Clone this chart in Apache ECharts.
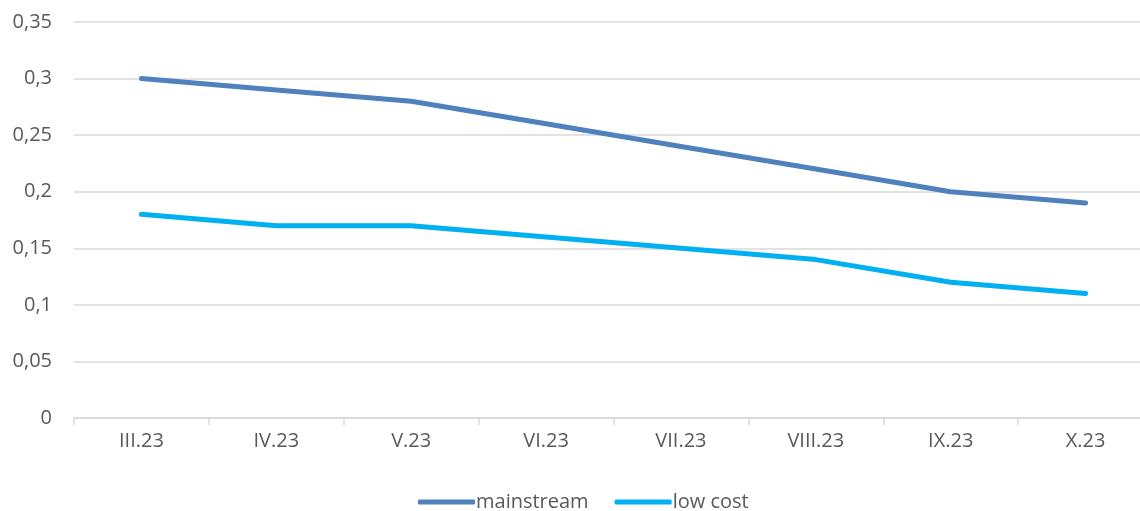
<!DOCTYPE html>
<html><head><meta charset="utf-8">
<script src="https://cdn.jsdelivr.net/npm/echarts@6/dist/echarts.min.js"></script>
<style>html,body{margin:0;padding:0;background:#fff}#c{width:1140px;height:511px}</style>
</head><body><div id="c"></div>
<script>
const categories = ['III.23','IV.23','V.23','VI.23','VII.23','VIII.23','IX.23','X.23'];
const mainstream = [0.30,0.29,0.28,0.26,0.24,0.22,0.20,0.19];
const lowCost = [0.18,0.17,0.17,0.16,0.15,0.14,0.12,0.11];
const FONT = 'Open Sans';
const chart = echarts.init(document.getElementById('c'));
chart.setOption({
  animation:false,
  textStyle:{fontFamily:FONT,color:'#595959'},
  grid:{left:74,width:1079,top:22,height:396,containLabel:false,outerBoundsMode:'none'},
  legend:{top:487,left:413,itemWidth:57,itemHeight:5,itemGap:26,icon:'roundRect',
    textStyle:{fontSize:20,color:'#595959',fontFamily:FONT,padding:[0,0,0,-4]},
    data:['mainstream','low cost']},
  xAxis:{type:'category',data:categories,boundaryGap:true,
    axisLine:{lineStyle:{color:'#d9d9d9',width:1.5}},
    axisTick:{show:true,length:7,lineStyle:{color:'#d9d9d9',width:1.5}},
    axisLabel:{fontSize:20,color:'#595959',margin:13,fontFamily:FONT}},
  yAxis:{type:'value',min:0,max:0.35,interval:0.05,
    axisLine:{show:false},axisTick:{show:false},
    splitLine:{lineStyle:{color:'#d9d9d9',width:1.5}},
    axisLabel:{fontSize:20,color:'#595959',margin:22,fontFamily:FONT,
      formatter:v=>String(+v.toFixed(2)).replace('.',',')}},
  series:[
    {name:'mainstream',type:'line',data:mainstream,symbol:'none',
      lineStyle:{color:'#4f81bd',width:5,cap:'round',join:'round'},itemStyle:{color:'#4f81bd'}},
    {name:'low cost',type:'line',data:lowCost,symbol:'none',
      lineStyle:{color:'#00b0f0',width:5,cap:'round',join:'round'},itemStyle:{color:'#00b0f0'}}
  ]
});
</script></body></html>
